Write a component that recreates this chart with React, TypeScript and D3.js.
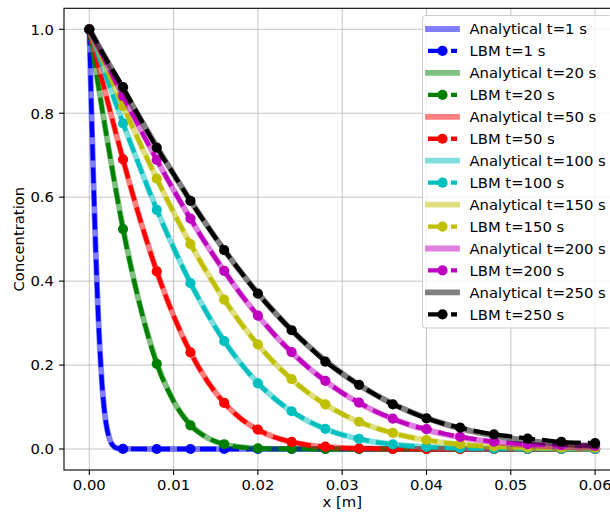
import React from 'react';
import * as d3 from 'd3';

// ---------- data ----------
const xFine = [0, 0.002, 0.004, 0.006, 0.008, 0.010, 0.012, 0.014, 0.016, 0.018, 0.020, 0.022, 0.024, 0.026, 0.028, 0.030,
  0.032, 0.034, 0.036, 0.038, 0.040, 0.042, 0.044, 0.046, 0.048, 0.050, 0.052, 0.054, 0.056, 0.058, 0.060];
const xT1 = [0, 0.00025, 0.0005, 0.00075, 0.001, 0.00125, 0.0015, 0.00175, 0.002, 0.0025, 0.003, 0.0035, 0.004,
  0.008, 0.012, 0.016, 0.020, 0.024, 0.028, 0.032, 0.036, 0.040, 0.044, 0.048, 0.052, 0.056, 0.060];

const times = [1, 20, 50, 100, 150, 200, 250];
const colors = ['#0000ff', '#008000', '#ff0000', '#00bfbf', '#bfbf00', '#bf00bf', '#000000'];

const anaT1 = [1, 0.814, 0.637, 0.480, 0.346, 0.239, 0.157, 0.099, 0.0595, 0.0185, 0.0047, 0.0010, 0.0002,
  0, 0, 0, 0, 0, 0, 0, 0, 0, 0, 0, 0, 0, 0];
const anaT20 = [1, 0.752, 0.527, 0.343, 0.206, 0.114, 0.0579, 0.0269, 0.0114, 0.0045, 0.0016, 0.0005, 0.0002, 0.0001,
  0, 0, 0, 0, 0, 0, 0, 0, 0, 0, 0, 0, 0, 0, 0, 0, 0];
const anaT50 = [1, 0.8416, 0.6893, 0.5488, 0.4240, 0.3175, 0.2302, 0.1617, 0.1098, 0.0720, 0.0456, 0.0279, 0.0164,
  0.0094, 0.0051, 0.0027, 0.0014, 0.0007, 0.0003, 0.0002, 0.0001, 0, 0, 0, 0, 0, 0, 0, 0, 0, 0];
const anaT100 = [1, 0.8875, 0.7773, 0.6714, 0.5716, 0.4795, 0.3961, 0.3222, 0.2579, 0.2031, 0.1573, 0.1198, 0.0897,
  0.0660, 0.0477, 0.0339, 0.0237, 0.0162, 0.0109, 0.0072, 0.0047, 0.0030, 0.0019, 0.0011, 0.0007, 0.0004, 0.0002,
  0.0001, 0.0001, 0, 0];
const anaT150 = [1, 0.9081, 0.8175, 0.7291, 0.6444, 0.5639, 0.4886, 0.4193, 0.3557, 0.2990, 0.2485, 0.2041, 0.1661,
  0.1335, 0.1061, 0.0835, 0.0647, 0.0498, 0.0378, 0.0283, 0.0210, 0.0154, 0.0111, 0.0079, 0.0056, 0.0040, 0.0027,
  0.0018, 0.0012, 0.0008, 0.0005];
const anaT200 = [1, 0.9204, 0.8416, 0.7643, 0.6893, 0.6171, 0.5488, 0.4840, 0.4240, 0.3683, 0.3175, 0.2716, 0.2302,
  0.1939, 0.1617, 0.1338, 0.1098, 0.0892, 0.0720, 0.0575, 0.0456, 0.0358, 0.0279, 0.0215, 0.0164, 0.0125, 0.0094,
  0.0070, 0.0051, 0.0038, 0.0027];
const anaT250 = [1, 0.9288, 0.8581, 0.7886, 0.7205, 0.6549, 0.5917, 0.5314, 0.4744, 0.4211, 0.3713, 0.3253, 0.2833,
  0.2452, 0.2108, 0.1797, 0.1526, 0.1286, 0.1076, 0.0893, 0.0738, 0.0605, 0.0492, 0.0397, 0.0319, 0.0254, 0.0201,
  0.0158, 0.0123, 0.0095, 0.0073];

const lbmT1 = [1, 0.814, 0.637, 0.480, 0.346, 0.239, 0.157, 0.099, 0.0595, 0.0185, 0.0047, 0.0010, 0.0002,
  0, 0, 0, 0, 0, 0, 0, 0, 0, 0, 0, 0, 0, 0];
const lbmT20 = [1, 0.752, 0.524, 0.343, 0.203, 0.114, 0.0565, 0.0269, 0.0114, 0.0045, 0.0016, 0.0005, 0.0002, 0.0001,
  0, 0, 0, 0, 0, 0, 0, 0, 0, 0, 0, 0, 0, 0, 0, 0, 0];
const lbmT50 = [1, 0.8416, 0.6900, 0.5488, 0.4230, 0.3175, 0.2302, 0.1617, 0.1098, 0.0720, 0.0460, 0.0279, 0.0170,
  0.0094, 0.0055, 0.0027, 0.0016, 0.0007, 0.0004, 0.0002, 0.0001, 0, 0, 0, 0, 0, 0, 0, 0, 0, 0];
const lbmT100 = [1, 0.8875, 0.7760, 0.6714, 0.5700, 0.4795, 0.3950, 0.3222, 0.2570, 0.2031, 0.1565, 0.1198, 0.0900,
  0.0660, 0.0480, 0.0339, 0.0240, 0.0162, 0.0110, 0.0072, 0.0050, 0.0030, 0.0022, 0.0011, 0.0010, 0.0004, 0.0004,
  0.0001, 0.0003, 0, 0.0002];
const lbmT150 = [1, 0.9081, 0.8170, 0.7291, 0.6440, 0.5639, 0.4880, 0.4193, 0.3560, 0.2990, 0.2490, 0.2041, 0.1665,
  0.1335, 0.1065, 0.0835, 0.0650, 0.0498, 0.0385, 0.0283, 0.0215, 0.0154, 0.0115, 0.0079, 0.0060, 0.0045, 0.0035,
  0.0030, 0.0030, 0.0032, 0.0035];
const lbmT200 = [1, 0.9204, 0.8410, 0.7643, 0.6890, 0.6171, 0.5490, 0.4840, 0.4245, 0.3683, 0.3180, 0.2716, 0.2310,
  0.1939, 0.1625, 0.1338, 0.1105, 0.0892, 0.0725, 0.0575, 0.0475, 0.0370, 0.0290, 0.0225, 0.0175, 0.0140, 0.0115,
  0.0100, 0.0090, 0.0085, 0.0080];
const lbmT250 = [1, 0.9288, 0.8620, 0.7886, 0.7180, 0.6549, 0.5910, 0.5314, 0.4740, 0.4211, 0.3700, 0.3253, 0.2830,
  0.2452, 0.2080, 0.1797, 0.1530, 0.1286, 0.1065, 0.0893, 0.0730, 0.0605, 0.0510, 0.0420, 0.0350, 0.0300, 0.0250,
  0.0210, 0.0170, 0.0150, 0.0140];

const anaSeries = [anaT1, anaT20, anaT50, anaT100, anaT150, anaT200, anaT250];
const lbmSeries = [lbmT1, lbmT20, lbmT50, lbmT100, lbmT150, lbmT200, lbmT250];

const xTicks = [0, 0.01, 0.02, 0.03, 0.04, 0.05, 0.06];
const yTicks = [0, 0.2, 0.4, 0.6, 0.8, 1.0];

// ---------- layout ----------
const W = 610, H = 512;
const L = 64, R = 620.4, T = 8.3, B = 470;
const FONT = 'DejaVu Sans, sans-serif';
const FS = 14.8;

export default function App() {
  const x = d3.scaleLinear().domain([-0.003, 0.063]).range([L, R]);
  const y = d3.scaleLinear().domain([-0.05, 1.05]).range([B, T]);

  const line = d3.line<[number, number]>()
    .x(d => x(d[0]))
    .y(d => y(d[1]))
    .curve(d3.curveMonotoneX);

  const xsFor = (i: number) => (i === 0 ? xT1 : xFine);
  const isMarker = (v: number) => Math.abs(v / 0.004 - Math.round(v / 0.004)) < 1e-6;

  const legendRows: { label: string; color: string; kind: 'ana' | 'lbm' }[] = [];
  times.forEach((t, i) => {
    legendRows.push({ label: `Analytical t=${t} s`, color: colors[i], kind: 'ana' });
    legendRows.push({ label: `LBM t=${t} s`, color: colors[i], kind: 'lbm' });
  });

  return (
    <svg width={W} height={H} style={{ position: 'absolute', left: 0, top: 0, display: 'block', background: '#fff' }}
      fontFamily={FONT}>
      <defs>
        <clipPath id="plotclip">
          <rect x={L} y={T} width={R - L} height={B - T} />
        </clipPath>
      </defs>
      <rect x={0} y={0} width={W} height={H} fill="#fff" />

      {/* grid */}
      <g stroke="#b0b0b0" strokeOpacity={0.75} strokeWidth={1}>
        {xTicks.map(v => <line key={'gx' + v} x1={x(v)} x2={x(v)} y1={T} y2={B} />)}
        {yTicks.map(v => <line key={'gy' + v} x1={L} x2={R} y1={y(v)} y2={y(v)} />)}
      </g>

      {/* data */}
      <g clipPath="url(#plotclip)">
        {times.map((t, i) => {
          const xs = xsFor(i);
          const ana = xs.map((xv, j) => [xv, anaSeries[i][j]] as [number, number]);
          const lbm = xs.map((xv, j) => [xv, lbmSeries[i][j]] as [number, number]);
          const marks = lbm.filter(d => isMarker(d[0]));
          return (
            <g key={t}>
              <path d={line(ana) || ''} fill="none" stroke={colors[i]} strokeOpacity={0.5}
                strokeWidth={5.8} strokeLinecap="square" strokeLinejoin="round" />
              <path d={line(lbm) || ''} fill="none" stroke={colors[i]} strokeWidth={4.3}
                strokeDasharray="16,7" strokeLinecap="butt" strokeLinejoin="round" />
              {marks.map(d => (
                <circle key={d[0]} cx={x(d[0])} cy={y(d[1])} r={5.1} fill={colors[i]} />
              ))}
            </g>
          );
        })}
      </g>

      {/* spines */}
      <rect x={L} y={T} width={R - L} height={B - T} fill="none" stroke="#000" strokeWidth={1.1} />

      {/* x ticks */}
      <g>
        {xTicks.map(v => (
          <g key={'xt' + v}>
            <line x1={x(v)} x2={x(v)} y1={B} y2={B + 5} stroke="#000" strokeWidth={1.1} />
            <text x={x(v)} y={B + 19.5} textAnchor="middle" fontSize={FS} fill="#000">{v.toFixed(2)}</text>
          </g>
        ))}
      </g>
      {/* y ticks */}
      <g>
        {yTicks.map(v => (
          <g key={'yt' + v}>
            <line x1={L - 5} x2={L} y1={y(v)} y2={y(v)} stroke="#000" strokeWidth={1.1} />
            <text x={L - 10} y={y(v) + 5.3} textAnchor="end" fontSize={FS} fill="#000">{v.toFixed(1)}</text>
          </g>
        ))}
      </g>

      {/* axis labels */}
      <text x={(L + R) / 2} y={506.5} textAnchor="middle" fontSize={FS} fill="#000">x [m]</text>
      <text transform={`translate(24, ${(T + B) / 2}) rotate(-90)`} textAnchor="middle" fontSize={FS} fill="#000">
        Concentration
      </text>

      {/* legend */}
      <g>
        <rect x={422.5} y={15.5} width={190} height={312.5} rx={3} ry={3}
          fill="#fff" fillOpacity={0.8} stroke="#cccccc" strokeWidth={1} />
        {legendRows.map((row, k) => {
          const cy = 29 + 21.95 * k;
          return (
            <g key={row.label}>
              {row.kind === 'ana' ? (
                <line x1={428} x2={457} y1={cy} y2={cy} stroke={row.color} strokeOpacity={0.5}
                  strokeWidth={5.8} strokeLinecap="square" />
              ) : (
                <g>
                  <line x1={428} x2={457} y1={cy} y2={cy} stroke={row.color}
                    strokeWidth={4.3} strokeDasharray="16,7" />
                  <circle cx={442.5} cy={cy} r={5.1} fill={row.color} />
                </g>
              )}
              <text x={469.5} y={cy + 5.3} fontSize={FS} fill="#000">{row.label}</text>
            </g>
          );
        })}
      </g>
    </svg>
  );
}
